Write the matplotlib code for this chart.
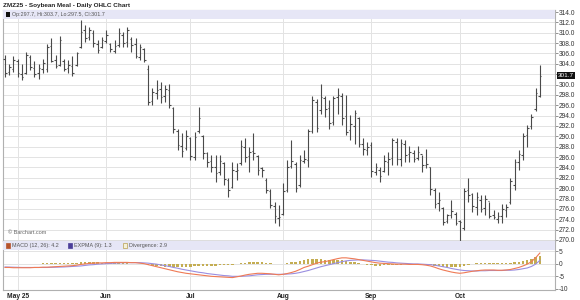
import matplotlib
matplotlib.use("Agg")
import matplotlib.pyplot as plt
from matplotlib.patches import Rectangle
import matplotlib.transforms as mtransforms

plt.rcParams['font.family'] = ['Liberation Sans', 'DejaVu Sans']

# ---- data (bar index 0 = Apr 28 2025) ----
highs = [305.7, 304.0, 305.5, 305.0, 304.0, 306.3, 305.8, 304.5, 304.0, 305.0,
         307.8, 309.0, 305.7, 309.4, 305.0, 304.7, 305.6, 306.3, 312.5, 311.5,
         311.2, 310.5, 308.6, 309.2, 310.5, 308.0, 308.6, 310.9, 310.2, 311.2,
         309.2, 308.9, 307.9, 307.0, 303.8, 299.3, 300.9, 300.5, 299.9, 300.2,
         295.7, 291.5, 290.6, 291.2, 289.9, 290.9, 295.7, 290.2, 287.0, 286.4,
         286.4, 286.4, 285.0, 281.9, 285.1, 284.8, 289.3, 289.6, 288.0, 290.6,
         286.4, 284.1, 281.9, 279.9, 277.4, 276.7, 280.9, 285.4, 289.3, 285.0,
         286.4, 287.4, 291.5, 297.7, 297.3, 300.2, 297.7, 297.0, 297.7, 299.3,
         298.3, 298.0, 294.1, 295.0, 293.8, 289.6, 289.0, 289.0, 284.8, 284.1,
         286.4, 287.0, 289.6, 289.6, 289.4, 289.2, 288.2, 287.4, 288.2, 286.4,
         287.6, 284.1, 280.0, 279.3, 276.4, 275.1, 277.7, 275.4, 273.8, 280.0,
         281.9, 279.0, 279.3, 278.7, 278.7, 277.4, 275.8, 275.4, 276.9, 276.9,
         281.9, 285.7, 287.4, 290.6, 292.2, 294.4, 299.3, 303.7]
lows = [301.5, 301.8, 302.4, 301.5, 300.8, 302.0, 302.8, 301.5, 301.0, 302.2,
        302.5, 304.3, 303.1, 303.5, 302.6, 302.2, 301.7, 303.5, 307.0, 308.3,
        308.6, 307.3, 306.0, 307.0, 308.0, 306.3, 306.0, 307.3, 307.3, 307.3,
        306.3, 305.1, 304.7, 304.4, 296.0, 296.0, 297.3, 296.4, 296.7, 295.4,
        290.6, 287.4, 286.1, 287.4, 285.4, 285.4, 290.6, 285.7, 284.1, 283.2,
        281.2, 282.5, 280.6, 278.3, 280.0, 281.5, 284.5, 285.1, 283.2, 285.4,
        282.5, 282.2, 279.0, 276.1, 273.2, 272.6, 274.8, 279.3, 283.8, 279.3,
        280.3, 284.8, 284.1, 290.6, 290.9, 294.4, 293.8, 291.5, 292.2, 294.4,
        292.2, 290.2, 289.3, 288.6, 288.0, 286.4, 286.4, 282.2, 282.5, 281.2,
        283.2, 282.5, 284.5, 284.5, 284.2, 285.0, 285.0, 285.0, 285.4, 283.2,
        283.8, 278.7, 276.1, 275.5, 272.9, 273.2, 274.2, 272.9, 269.0, 271.9,
        277.4, 275.4, 274.8, 275.4, 274.8, 274.2, 274.0, 273.2, 273.2, 274.4,
        277.0, 279.6, 283.5, 285.4, 288.0, 291.5, 294.8, 297.5]
opens = [305.0, 302.4, 303.0, 304.6, 302.0, 302.3, 305.3, 303.2, 302.2, 303.0,
         303.0, 307.5, 304.8, 303.8, 304.6, 303.2, 303.6, 303.8, 307.2, 310.6,
         309.2, 310.0, 307.8, 307.2, 308.4, 307.8, 306.5, 307.6, 309.5, 308.2,
         308.8, 307.8, 305.4, 306.8, 303.0, 296.8, 298.4, 299.2, 297.8, 299.0,
         295.4, 291.0, 288.2, 287.8, 289.6, 286.0, 291.0, 290.0, 286.8, 285.2,
         284.0, 283.2, 284.8, 281.6, 280.2, 283.4, 284.8, 288.0, 286.2, 287.2,
         286.2, 283.8, 281.6, 279.4, 276.6, 274.2, 275.0, 279.6, 284.2, 284.6,
         280.6, 285.2, 285.4, 291.0, 296.6, 295.0, 297.4, 295.4, 292.8, 297.6,
         297.8, 294.0, 291.2, 292.0, 293.6, 288.6, 287.4, 288.4, 283.2, 283.6,
         283.4, 285.0, 285.8, 289.0, 285.6, 288.6, 286.6, 286.8, 285.8, 286.6,
         284.4, 284.0, 279.6, 277.2, 276.2, 273.6, 274.8, 275.0, 273.6, 272.4,
         279.6, 278.8, 276.4, 277.8, 276.2, 277.6, 274.8, 274.0, 274.6, 275.8,
         277.4, 280.6, 285.0, 286.4, 290.2, 292.0, 295.2, 297.7]
closes = [302.2, 303.4, 304.8, 302.2, 301.4, 305.8, 303.3, 302.0, 303.2, 304.2,
          307.2, 304.6, 303.5, 308.6, 303.0, 303.8, 302.3, 306.0, 310.2, 309.0,
          310.6, 308.0, 306.6, 308.6, 309.5, 306.8, 307.4, 310.0, 308.0, 310.6,
          307.6, 305.6, 307.2, 304.8, 296.6, 298.6, 299.0, 297.6, 299.2, 296.0,
          291.5, 288.4, 287.2, 290.0, 286.2, 289.8, 293.6, 286.8, 285.0, 284.0,
          283.0, 285.2, 281.8, 279.6, 283.6, 283.6, 288.2, 286.0, 287.0, 286.8,
          283.6, 283.5, 279.6, 276.8, 274.6, 274.4, 279.4, 284.0, 285.2, 280.0,
          285.4, 285.6, 291.0, 297.0, 291.6, 297.6, 295.2, 292.6, 297.4, 298.0,
          293.6, 290.8, 292.4, 294.6, 288.6, 287.6, 288.0, 283.4, 284.0, 282.4,
          285.2, 285.6, 289.2, 285.6, 288.8, 286.4, 287.0, 285.6, 287.0, 284.4,
          284.6, 279.8, 277.0, 277.8, 273.4, 274.8, 275.6, 273.2, 273.4, 279.4,
          278.6, 276.6, 278.2, 276.0, 278.0, 274.6, 274.4, 274.6, 276.0, 276.4,
          281.4, 285.0, 286.6, 290.0, 291.6, 293.8, 298.4, 301.7]

macd = [-1.5, -1.5, -1.6, -1.6, -1.6, -1.6, -1.6, -1.5, -1.5, -1.4,
        -1.4, -1.3, -1.2, -1.1, -1.0, -0.9, -0.8, -0.6, -0.3, -0.1,
        0.1, 0.2, 0.3, 0.3, 0.4, 0.4, 0.5, 0.5, 0.5, 0.5,
        0.4, 0.4, 0.2, 0.0, -0.4, -0.8, -1.2, -1.6, -2.0, -2.4,
        -2.8, -3.2, -3.5, -3.8, -4.0, -4.2, -4.4, -4.6, -4.8, -5.0,
        -5.1, -5.2, -5.3, -5.4, -5.5, -5.2, -4.9, -4.5, -4.2, -4.0,
        -3.8, -3.8, -3.9, -4.0, -4.2, -4.4, -4.2, -3.9, -3.5, -3.0,
        -2.3, -1.5, -1.0, -0.4, 0.2, 0.6, 0.8, 1.2, 1.6, 2.0,
        2.3, 2.3, 2.1, 1.9, 1.6, 1.3, 1.0, 0.7, 0.4, 0.2,
        0.1, 0.0, -0.1, -0.2, -0.2, -0.2, -0.3, -0.3, -0.3, -0.4,
        -0.6, -0.9, -1.4, -2.0, -2.5, -2.9, -3.3, -3.6, -3.8, -3.6,
        -3.3, -3.0, -2.8, -2.6, -2.5, -2.5, -2.5, -2.6, -2.6, -2.5,
        -2.3, -1.9, -1.5, -0.9, -0.2, 0.8, 2.3, 4.2]
expma = [-1.3, -1.35, -1.4, -1.45, -1.5, -1.5, -1.5, -1.5, -1.5, -1.5,
         -1.5, -1.45, -1.4, -1.35, -1.3, -1.2, -1.1, -1.0, -0.9, -0.7,
         -0.5, -0.4, -0.2, -0.1, 0.0, 0.1, 0.2, 0.3, 0.35, 0.4,
         0.4, 0.4, 0.4, 0.3, 0.2, 0.0, -0.2, -0.5, -0.8, -1.1,
         -1.5, -1.8, -2.2, -2.5, -2.8, -3.1, -3.4, -3.6, -3.9, -4.1,
         -4.3, -4.5, -4.7, -4.8, -5.0, -5.0, -5.0, -4.9, -4.8, -4.6,
         -4.4, -4.3, -4.2, -4.2, -4.2, -4.2, -4.2, -4.1, -4.0, -3.8,
         -3.5, -3.1, -2.7, -2.2, -1.7, -1.2, -0.8, -0.4, 0.0, 0.4,
         0.8, 1.1, 1.3, 1.4, 1.5, 1.5, 1.4, 1.3, 1.2, 1.0,
         0.8, 0.6, 0.5, 0.3, 0.2, 0.1, 0.0, -0.1, -0.1, -0.2,
         -0.3, -0.4, -0.6, -0.9, -1.2, -1.5, -1.9, -2.2, -2.5, -2.7,
         -2.8, -2.9, -2.9, -2.8, -2.8, -2.7, -2.7, -2.7, -2.7, -2.6,
         -2.6, -2.5, -2.3, -2.0, -1.7, -1.1, -0.2, 1.3]
divergence = [m - s for m, s in zip(macd, expma)]

month_labels = ["May 25", "Jun", "Jul", "Aug", "Sep", "Oct"]
month_index = [3, 24, 44, 66, 87, 108]
price_ticks = [270.0 + 2.0 * k for k in range(23)]
macd_ticks = [5, 0, -5, -10]

title = "ZMZ25 - Soybean Meal - Daily OHLC Chart"
ohlc_legend = "Op:297.7, Hi:303.7, Lo:297.5, Cl:301.7"

# ---- figure ----
fig = plt.figure(figsize=(5.8, 3.0), dpi=100)
W, H = 580.0, 300.0
left, right = 3 / W, 555 / W
ax = fig.add_axes([left, 1 - 241 / H, right - left, (241 - 10) / H])
ax2 = fig.add_axes([left, 1 - 290 / H, right - left, (290 - 241) / H], sharex=ax)
AW = 552.0

n = len(highs)
xs = list(range(n))
bar_col = '#4a4a4a'
grid_col = '#e3e3e3'
spine_col = '#b0b0b0'

# price grid
for p in price_ticks:
    ax.axhline(p, color=grid_col, lw=0.7, zorder=0)
for mi in month_index:
    ax.axvline(mi, color=grid_col, lw=0.7, zorder=0)
    ax2.axvline(mi, color=grid_col, lw=0.7, zorder=0)

tw = 0.38
ax.vlines(xs, lows, highs, color=bar_col, lw=0.8, zorder=3)
ax.hlines(opens, [x - tw for x in xs], xs, color=bar_col, lw=0.8, zorder=3)
ax.hlines(closes, xs, [x + tw for x in xs], color=bar_col, lw=0.8, zorder=3)

ax.set_xlim(-0.48, 130.6)
ax.set_ylim(269.8, 314.39)
ax.yaxis.tick_right()
ax.set_yticks(price_ticks)
ax.set_yticklabels([f"{p:.1f}" for p in price_ticks])
ax.tick_params(axis='y', labelsize=4.8, length=2, width=0.5, color='#666666',
               labelcolor='#333333', pad=1)
ax.tick_params(axis='x', bottom=False, labelbottom=False)
for s in ax.spines.values():
    s.set_color(spine_col)
    s.set_linewidth(0.8)

# legend band main
band_h = 9 / 231
ax.add_patch(Rectangle((0, 1 - band_h), 1, band_h, transform=ax.transAxes,
                       facecolor='#e6e6f6', edgecolor='none', zorder=4))
ax.add_patch(Rectangle((3 / AW, 1 - band_h * 0.78), 4 / AW, band_h * 0.55,
                       transform=ax.transAxes, facecolor='#111111',
                       edgecolor='none', zorder=5))
ax.text(9 / AW, 1 - band_h / 2, ohlc_legend, transform=ax.transAxes,
        fontsize=3.9, color='#555555', va='center', ha='left', zorder=5)
ax.text(5 / AW, 0.035, "\u00a9 Barchart.com", transform=ax.transAxes,
        fontsize=4.0, color='#666666', va='center', ha='left', zorder=5)

# last price box
trans = mtransforms.blended_transform_factory(ax.transAxes, ax.transData)
ax.text(1.006, closes[-1], f"{closes[-1]:.1f}", transform=trans, fontsize=4.6,
        color='white', va='center', ha='left', zorder=6,
        bbox=dict(boxstyle='square,pad=0.15', facecolor='#111111',
                  edgecolor='none'))

fig.text(3 / W, 1 - 6 / H, title, fontsize=4.6, fontweight='bold',
         color='#222222', va='center', ha='left')

# ---- MACD panel ----
for t in macd_ticks[:3]:
    ax2.axhline(t, color=grid_col, lw=0.7, zorder=0)
ax2.bar(xs, divergence, width=0.6, color='#c4ad52', zorder=2)
ax2.plot(xs, expma, color='#9a8ee0', lw=0.8, zorder=3)
ax2.plot(xs, macd, color='#ef7a55', lw=0.8, zorder=4)
ax2.set_ylim(-10.4, 8.95)
ax2.yaxis.tick_right()
ax2.set_yticks(macd_ticks)
ax2.set_yticklabels([str(t) for t in macd_ticks])
ax2.tick_params(axis='y', labelsize=4.8, length=2, width=0.5, color='#666666',
                labelcolor='#333333', pad=1)
ax2.set_xticks(month_index)
ax2.set_xticklabels(month_labels)
ax2.tick_params(axis='x', labelsize=4.8, length=0, pad=2, labelcolor='#222222')
for lab in ax2.get_xticklabels():
    lab.set_fontweight('bold')
for s in ax2.spines.values():
    s.set_color(spine_col)
    s.set_linewidth(0.8)

band2 = 9 / 49
ax2.add_patch(Rectangle((0, 1 - band2), 1, band2, transform=ax2.transAxes,
                        facecolor='#e6e6f6', edgecolor='none', zorder=5))
leg_items = [(3, '#b5532c', '#b5532c', "MACD (12, 26): 4.2"),
             (65, '#4b3f9a', '#4b3f9a', "EXPMA (9): 1.3"),
             (120, '#f4f0d8', '#b8a050', "Divergence: 2.9")]
for xp, fc, ec, txt in leg_items:
    ax2.add_patch(Rectangle((xp / AW, 1 - band2 * 0.78), 4 / AW, band2 * 0.55,
                            transform=ax2.transAxes, facecolor=fc,
                            edgecolor=ec, lw=0.5, zorder=6))
    ax2.text((xp + 6) / AW, 1 - band2 / 2, txt, transform=ax2.transAxes,
             fontsize=3.9, color='#555555', va='center', ha='left', zorder=6)

fig.savefig("out.png", dpi=100)
